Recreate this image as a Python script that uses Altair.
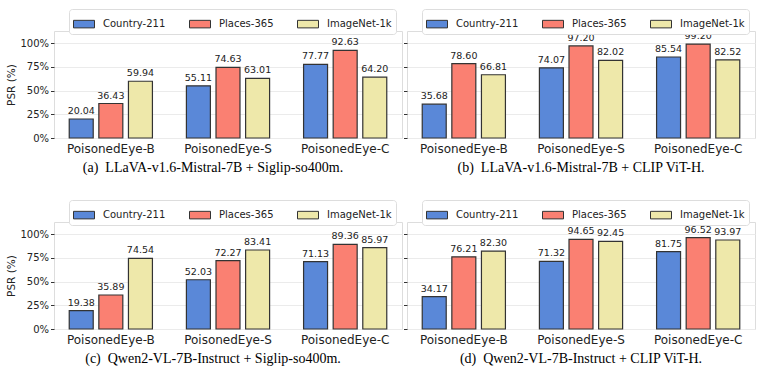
import altair as alt
import pandas as pd

groups = ["PoisonedEye-B", "PoisonedEye-S", "PoisonedEye-C"]
datasets = ["Country-211", "Places-365", "ImageNet-1k"]
colors = ["#5A88D8", "#FA8072", "#EEE8AA"]

a_country = [20.04, 55.11, 77.77]
a_places = [36.43, 74.63, 92.63]
a_imagenet = [59.94, 63.01, 64.20]

b_country = [35.68, 74.07, 85.54]
b_places = [78.60, 97.20, 99.20]
b_imagenet = [66.81, 82.02, 82.52]

c_country = [19.38, 52.03, 71.13]
c_places = [35.89, 72.27, 89.36]
c_imagenet = [74.54, 83.41, 85.97]

d_country = [34.17, 71.32, 81.75]
d_places = [76.21, 94.65, 96.52]
d_imagenet = [82.30, 92.45, 93.97]

captions = [
    "(a)\u00a0\u00a0LLaVA-v1.6-Mistral-7B + Siglip-so400m.",
    "(b)\u00a0\u00a0LLaVA-v1.6-Mistral-7B + CLIP ViT-H.",
    "(c)\u00a0\u00a0Qwen2-VL-7B-Instruct + Siglip-so400m.",
    "(d)\u00a0\u00a0Qwen2-VL-7B-Instruct + CLIP ViT-H.",
]


def make_df(country, places, imagenet):
    rows = []
    for ds, vals in zip(datasets, [country, places, imagenet]):
        for g, v in zip(groups, vals):
            rows.append({"group": g, "dataset": ds, "value": v})
    return pd.DataFrame(rows)


FONT = "DejaVu Sans"


def panel(df, caption, left, dx):
    x = alt.X(
        "group:N",
        sort=groups,
        title=None,
        scale=alt.Scale(paddingInner=0.29, paddingOuter=0.13),
        axis=alt.Axis(
            labelAngle=0, ticks=False, domain=False, grid=False,
            labelFontSize=12, labelFont=FONT, labelColor="#222", labelPadding=5,
        ),
    )
    xo = alt.XOffset("dataset:N", sort=datasets, scale=alt.Scale(paddingInner=0.19))
    if left:
        yaxis = alt.Axis(
            values=[0, 25, 50, 75, 100], labelExpr="datum.value + '%'",
            title="PSR (%)", titleFont=FONT, titleFontSize=10.5, titleFontWeight="normal",
            titleColor="#222", titlePadding=3,
            labelFont=FONT, labelFontSize=10, labelColor="#222", labelPadding=2,
            tickSize=3.5, tickColor="#333", domain=False, gridColor="#ebebeb",
        )
    else:
        yaxis = alt.Axis(
            values=[0, 25, 50, 75, 100], labels=False,
            tickSize=3.5, tickColor="#333", domain=False, gridColor="#ebebeb",
        )
    y = alt.Y("value:Q", title=None if not left else "PSR (%)",
              scale=alt.Scale(domain=[0, 113], nice=False), axis=yaxis)
    base = alt.Chart(df)
    bars = base.mark_bar(stroke="#333", strokeWidth=1.2).encode(
        x=x, xOffset=xo, y=y,
        color=alt.Color(
            "dataset:N",
            scale=alt.Scale(domain=datasets, range=colors),
            legend=alt.Legend(
                title=None, orient="none", legendX=15, legendY=-22,
                direction="horizontal",
                symbolType="M-1,-0.36L1,-0.36L1,0.36L-1,0.36Z",
                symbolSize=441, symbolStrokeColor="#333", symbolStrokeWidth=1,
                symbolOpacity=1,
                labelFont=FONT, labelFontSize=10, labelColor="#222",
                labelOffset=8, columnPadding=21, padding=4,
                strokeColor="#dddddd", fillColor="white", cornerRadius=3,
            ),
        ),
    )
    text = base.mark_text(dy=-3, baseline="bottom", fontSize=9.5, font=FONT, color="#222").encode(
        x=x, xOffset=xo, y=y, text=alt.Text("value:Q", format=".2f")
    )
    return alt.layer(bars, text).properties(
        width=348, height=107,
        title=alt.TitleParams(
            caption, orient="bottom", anchor="middle", frame="group", dx=dx,
            font="Liberation Serif", fontSize=14, fontWeight="normal",
            color="black", offset=7,
        ),
    )


pa = panel(make_df(a_country, a_places, a_imagenet), captions[0], True, -15)
pb = panel(make_df(b_country, b_places, b_imagenet), captions[1], False, 0)
pc = panel(make_df(c_country, c_places, c_imagenet), captions[2], True, -15)
pd_ = panel(make_df(d_country, d_places, d_imagenet), captions[3], False, 0)

chart = alt.concat(
    pa, pb, pc, pd_, columns=2, bounds="flush",
    spacing={"row": 84, "column": 5},
).resolve_legend(color="independent").properties(
    padding={"left": 6, "top": 8, "right": 5, "bottom": 5}
).configure_view(stroke="#555", strokeWidth=1).configure(background="white")

chart.save("out.html", embed_options={"renderer": "svg", "actions": False})
